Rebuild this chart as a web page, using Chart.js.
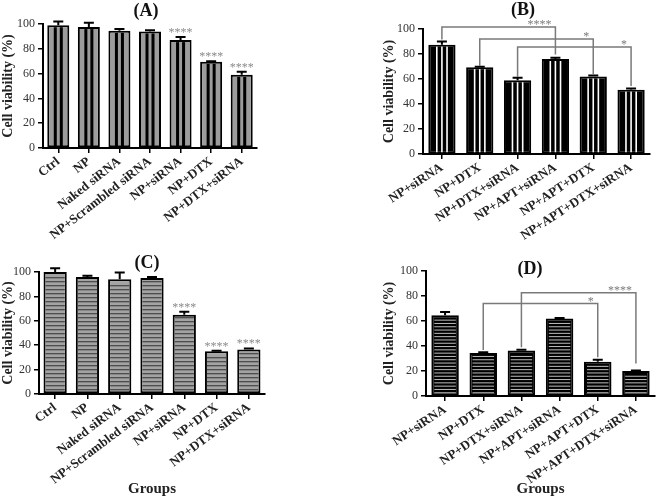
<!DOCTYPE html>
<html>
<head>
<meta charset="utf-8">
<script src="https://cdn.jsdelivr.net/npm/chart.js@4.4.0/dist/chart.umd.min.js"></script>
<style>
body { margin:0; background:#fff; }
#wrap { position:relative; width:657px; height:498px; overflow:hidden; }
canvas { position:absolute; }
.ttl { position:absolute; font:bold 18px "Liberation Serif", serif; color:#111; transform:translate(-50%,-50%); white-space:nowrap; }
</style>
</head>
<body>
<div id="wrap">
	<canvas id="cA" width="328" height="250" style="left:0px;top:0px"></canvas>
	<canvas id="cB" width="329" height="250" style="left:328px;top:0px"></canvas>
	<canvas id="cC" width="328" height="248" style="left:0px;top:250px"></canvas>
	<canvas id="cD" width="329" height="248" style="left:328px;top:250px"></canvas>
	<div class="ttl" style="left:146px;top:10px">(A)</div>
	<div class="ttl" style="left:523px;top:9px">(B)</div>
	<div class="ttl" style="left:147px;top:262px">(C)</div>
	<div class="ttl" style="left:530px;top:268px">(D)</div>
</div>
<script>
// groups
var groups1 = ['Ctrl', 'NP', 'Naked siRNA', 'NP+Scrambled siRNA', 'NP+siRNA', 'NP+DTX', 'NP+DTX+siRNA'];
var groups2 = ['NP+siRNA', 'NP+DTX', 'NP+DTX+siRNA', 'NP+APT+siRNA', 'NP+APT+DTX', 'NP+APT+DTX+siRNA'];

// (A)
var valA = [99, 97.5, 94.5, 94, 87, 69.5, 59];
var errA = [3, 3.5, 1.5, 1, 2.5, 0.5, 2.5];
var starA = ['', '', '', '', '****', '****', '****'];

// (B)
var valB = [87.5, 69.5, 59, 76, 62, 51.5];
var errB = [2.5, 0.3, 2, 1, 0.8, 1];
// [from, to, line level, left end, right end, label]
var brkB = [
	[0, 3, 101.6, 91.7, 79.7, '****'],
	[1, 4, 92, 70.5, 63.2, '*'],
	[2, 5, 85.6, 61.6, 54.4, '*']
];

// (C)
var valC = [100, 96, 94, 95, 65, 35, 36.5];
var errC = [3, 1, 5.5, 1, 2.5, 0.5, 0.8];
var starC = ['', '', '', '', '****', '****', '****'];

// (D)
var valD = [64.7, 34.5, 36.5, 62, 27.5, 20];
var errD = [2.5, 0.5, 0.5, 0.5, 1.5, 0.5];
var brkD = [
	[1, 4, 74, 36.8, 31, '*'],
	[2, 5, 82.6, 39, 26, '****']
];

var yTicks = [0, 20, 40, 60, 80, 100];

Chart.defaults.font.family = '"Liberation Serif", "Times New Roman", serif';

var extras = {
	id: 'extras',
	afterDatasetsDraw: function(chart, args, opts) {
		var ctx = chart.ctx;
		var meta = chart.getDatasetMeta(0);
		var ys = chart.scales.y;
		var vals = chart.data.datasets[0].data;
		ctx.save();
		meta.data.forEach(function(el, i) {
			var p = el.getProps(['x', 'y', 'base', 'width'], true);
			var l = p.x - p.width / 2 + 2, r = p.x + p.width / 2 - 2;
			var t = p.y + 2, b = p.base - 1;
			var w = r - l;
			if (opts.pattern == 'vgray') {
				ctx.fillStyle = '#000';
				[1/3, 2/3].forEach(function(f) { ctx.fillRect(l + w * f - 1.5, t, 3, b - t); });
			} else if (opts.pattern == 'vblack') {
				ctx.fillStyle = '#fff';
				[0.28, 0.5, 0.72].forEach(function(f) { ctx.fillRect(l + w * f - 0.8, t, 1.6, b - t); });
			} else if (opts.pattern == 'hgray') {
				ctx.fillStyle = '#333';
				for (var yy = b - 3; yy > t; yy -= 4) ctx.fillRect(l, yy, w, 1);
			} else if (opts.pattern == 'hblack') {
				ctx.fillStyle = '#bdbdbd';
				for (var yy = b - 2; yy > t + 1; yy -= 3.3) ctx.fillRect(l + 1, yy, w - 2, 1);
			}
			// error bar
			var e = opts.errors[i];
			var yt = ys.getPixelForValue(vals[i] + e);
			ctx.strokeStyle = '#000';
			ctx.lineWidth = 2;
			ctx.beginPath();
			ctx.moveTo(p.x, p.y);
			ctx.lineTo(p.x, yt);
			ctx.moveTo(p.x - 5, yt);
			ctx.lineTo(p.x + 5, yt);
			ctx.stroke();
			if (opts.stars && opts.stars[i]) {
				ctx.fillStyle = '#8a8a8a';
				ctx.font = '12px "Liberation Serif"';
				ctx.textAlign = 'center';
				ctx.textBaseline = 'alphabetic';
				ctx.fillText(opts.stars[i], p.x, yt - 1);
			}
		});
		if (opts.brackets) {
			ctx.strokeStyle = '#7a7a7a';
			ctx.lineWidth = 1.5;
			opts.brackets.forEach(function(bk) {
				var x1 = meta.data[bk[0]].x, x2 = meta.data[bk[1]].x;
				var yl = ys.getPixelForValue(bk[2]);
				ctx.beginPath();
				ctx.moveTo(x1, ys.getPixelForValue(bk[3]));
				ctx.lineTo(x1, yl);
				ctx.lineTo(x2, yl);
				ctx.lineTo(x2, ys.getPixelForValue(bk[4]));
				ctx.stroke();
				ctx.fillStyle = '#7a7a7a';
				ctx.font = '12px "Liberation Serif"';
				ctx.textAlign = 'right';
				ctx.textBaseline = 'alphabetic';
				ctx.fillText(bk[5], x2 - 4, yl + 1);
			});
		}
		ctx.restore();
	}
};

function makeChart(id, labels, values, cfg) {
	var cl = cfg.canvas[0], ct = cfg.canvas[1], cw = cfg.canvas[2], ch = cfg.canvas[3];
	var padL = Math.max(0, cfg.titleX - cl - 9);
	return new Chart(document.getElementById(id), {
		type: 'bar',
		data: {
			labels: labels,
			datasets: [{
				data: values,
				backgroundColor: cfg.fill,
				borderColor: '#000',
				borderWidth: 2,
				borderSkipped: false,
				barPercentage: 0.72,
				categoryPercentage: 1
			}]
		},
		options: {
			responsive: false,
			animation: false,
			layout: { padding: { left: padL, top: cfg.area[1] - ct, right: cl + cw - cfg.area[2], bottom: 0 } },
			plugins: {
				legend: { display: false },
				tooltip: { enabled: false },
				extras: { pattern: cfg.pattern, errors: cfg.errors, stars: cfg.stars, brackets: cfg.brackets }
			},
			scales: {
				x: {
					grid: { display: true, drawOnChartArea: false, offset: false, tickLength: 5, color: '#000', lineWidth: 1.5 },
					border: { color: '#000', width: 2 },
					ticks: { autoSkip: false, minRotation: cfg.rot, maxRotation: cfg.rot, padding: 1, color: '#222', font: { weight: 'bold', size: 13 } },
					title: { display: !!cfg.xTitle, text: cfg.xTitle || '', color: '#222', padding: 0, font: { weight: 'bold', size: 15 } },
					afterFit: function(s) { s.height = ch - (cfg.area[3] - ct); }
				},
				y: {
					min: 0,
					max: 100,
					afterBuildTicks: function(s) { s.ticks = yTicks.map(function(v) { return { value: v }; }); },
					grid: { drawOnChartArea: false, tickLength: 5, color: '#000', lineWidth: 1.5 },
					border: { color: '#000', width: 2 },
					ticks: { padding: 3, color: '#333', font: { size: 12 } },
					title: { display: true, text: 'Cell viability (%)', color: '#222', padding: 0, font: { weight: 'bold', size: 14 } },
					afterFit: function(s) { s.width = cfg.area[0] - cl - padL; }
				}
			}
		},
		plugins: [extras]
	});
}

makeChart('cA', groups1, valA, {
	canvas: [0, 0, 328, 250], area: [43, 24, 257, 148], titleX: 8,
	fill: '#9c9c9c', pattern: 'vgray', errors: errA, stars: starA, rot: 38
});
makeChart('cB', groups2, valB, {
	canvas: [328, 0, 329, 250], area: [423, 29, 650, 154], titleX: 390,
	fill: '#000', pattern: 'vblack', errors: errB, brackets: brkB, rot: 33
});
makeChart('cC', groups1, valC, {
	canvas: [0, 250, 328, 248], area: [39, 272, 265, 394], titleX: 7,
	fill: '#a3a3a3', pattern: 'hgray', errors: errC, stars: starC, rot: 37, xTitle: 'Groups'
});
makeChart('cD', groups2, valD, {
	canvas: [328, 250, 329, 248], area: [426, 271, 655, 396], titleX: 390,
	fill: '#000', pattern: 'hblack', errors: errD, brackets: brkD, rot: 34, xTitle: 'Groups'
});
</script>
</body>
</html>
